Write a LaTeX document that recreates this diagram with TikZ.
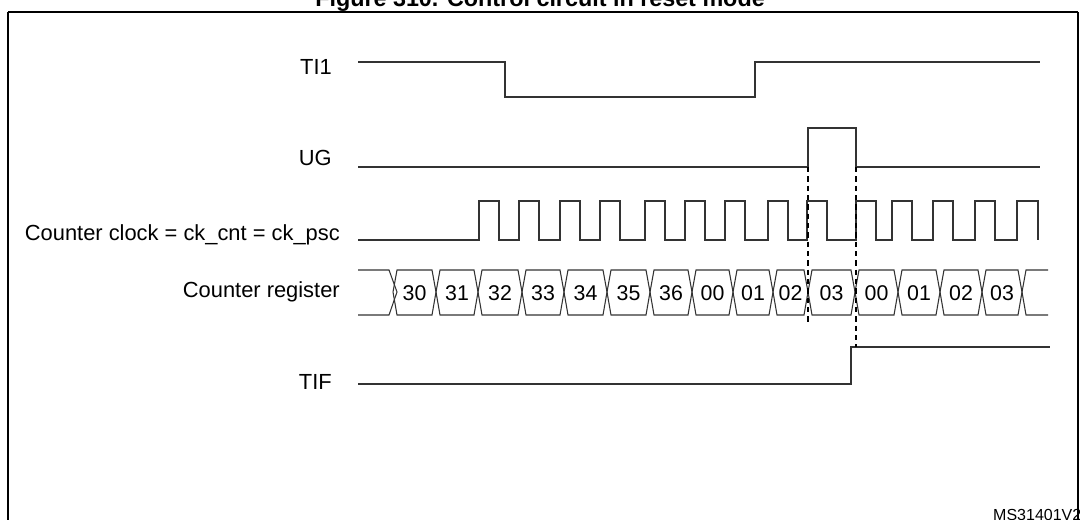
\documentclass[tikz,border=0pt]{standalone}
\usepackage{fontspec}
\setmainfont{Liberation Sans}
\usetikzlibrary{positioning}

\begin{document}
\begin{tikzpicture}[x=0.75pt, y=-0.75pt, font=\fontsize{16.4pt}{18pt}\selectfont,
  wave/.style={line width=0.8pt, color=black!80},
  sig/.style={anchor=east, inner sep=0pt},
  val/.style={inner sep=0pt, font=\fontsize{16pt}{18pt}\selectfont}]
      \useasboundingbox (0,0) rectangle (1080,519);%
      \clip (0,0) rectangle (1080,519);%

      % Frame and title
      \node [font=\bfseries\fontsize{17.5pt}{19pt}\selectfont] (title) at (540,1) {Figure 310. Control circuit in reset mode};%
      \draw [line width=1.4pt] (8,12) -- (1078,12);%
      \draw [line width=0.8pt] (8,12) -- (8,530) (1078,12) -- (1078,530);%
      \node [font=\fontsize{12pt}{13pt}\selectfont, anchor=east] (ref) at (1086,515) {MS31401V2};%

      % Labels
      \node [sig] (TI) at (332,67) {TI1};%
      \node [sig] (UG) at (332,158) {UG};%
      \node [sig] (CK) at (340,235) {Counter clock = ck\_cnt = ck\_psc};%
      \node [sig] (CR) at (340,292) {Counter register};%
      \node [sig] (TIF) at (332,382) {TIF};%

      % TI1
      \draw [wave] (358,62) -- (505,62) -- (505,97) -- (755,97) -- (755,62) -- (1040,62);%

      % UG
      \draw [wave] (358,167) -- (808,167) |- (856,128) |- (1040,167);%
      \coordinate (ugA) at (808,167);%
      \coordinate (ugB) at (856,167);%

      % Clock
      \draw [wave] (358,240) -- (479,240)
        \foreach \r in {479,519,560,600,645,685,725,768,807,856,892,933,975} {
          -- (\r,240) -- (\r,201) -- ({\r+20},201) -- ({\r+20},240)}
        -- (1017,240) -- (1017,201) -- (1038,201) -- (1038,240);%

      % Counter register
      \draw [wave] (358,270) -- (389,270) -- (397,292) -- (389,315) -- (358,315);%
      \foreach \a/\b/\v in {393/436/30, 436/478/31, 478/522/32, 522/564/33,
          564/607/34, 607/650/35, 650/692/36, 692/733/00, 733/773/01,
          773/808/02, 808/855/03, 855/898/00, 898/940/01, 940/982/02, 982/1022/03} {
        \draw [wave] (\a,292) -- ({\a+4},270) -- ({\b-4},270) -- (\b,292)
          -- ({\b-4},315) -- ({\a+4},315) -- cycle;%
        \node [val] (v\a) at ({(\a+\b)/2},293) {\v};%
      }
      \draw [wave] (1048,270) -- (1026,270) -- (1022,292) -- (1026,315) -- (1048,315);%

      % TIF
      \draw [wave] (358,384) -- (851,384) -- (851,347) -- (1050,347);%
      \coordinate (tifA) at (808,323);%
      \coordinate (tifB) at (856,347);%

      % dashed markers
      \draw [line width=0.8pt, dash pattern=on 4pt off 3pt] (ugA) -- (tifA);%
      \draw [line width=0.8pt, dash pattern=on 4pt off 3pt] (ugB) -- (tifB);%
\end{tikzpicture}
\end{document}
